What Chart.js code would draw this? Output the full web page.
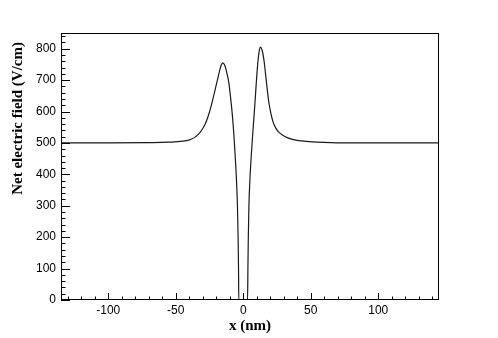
<!DOCTYPE html>
<html>
<head>
<meta charset="utf-8">
<script src="https://cdn.jsdelivr.net/npm/chart.js@4.4.1/dist/chart.umd.min.js"></script>
<style>
  html, body { margin: 0; padding: 0; background: #fff; }
  #wrap { width: 498px; height: 338px; }
</style>
</head>
<body>
<div id="wrap"><canvas id="field-chart" width="498" height="338"></canvas></div>
<script>
// values (x in nm, field in V/cm)
const xNm = [-135, -100, -70, -55, -45, -39, -35, -32, -30, -28, -26, -24, -22, -20, -17.6, -16.3, -15.1,
  -13.5, -11.9, -10.7, -9.4, -8.2, -7, -6, -5, -4.3, -3.8, -3.5, -3.3, 0,
  3.2, 3.45, 3.75, 4.2, 4.9, 5.8, 6.8, 7.8, 8.8, 9.8, 10.8, 11.8, 12.8, 14, 15.3, 16.5, 17.8, 19,
  20.2, 22, 24, 26, 29, 33, 38, 45, 55, 65, 80, 145];
const field = [500, 500, 501, 502.5, 505.5, 511, 521, 534, 546, 562, 585, 614, 648, 685, 728, 748, 755,
  745, 718, 692, 645, 595, 530, 460, 380, 300, 200, 100, 0, 0,
  0, 100, 200, 300, 380, 450, 515, 575, 635, 700, 755, 792, 805, 795, 765, 720, 669, 628,
  600, 568, 548, 536, 525, 516, 510, 505.5, 502.5, 501, 500, 500];
const xTicks = [-100, -50, 0, 50, 100];
const yTicks = [0, 100, 200, 300, 400, 500, 600, 700, 800];

// ROOT-style frame with ticks on the inside, minor ticks included
const frameTicks = {
  id: 'frameTicks',
  afterDraw(chart) {
    const { ctx, chartArea: { left, right, top, bottom }, scales: { x, y } } = chart;
    ctx.save();
    ctx.strokeStyle = '#000';
    ctx.lineWidth = 1;
    ctx.strokeRect(left + 0.5, top + 0.5, right - left - 1, bottom - top - 1);
    ctx.beginPath();
    for (let v = -130; v <= 140; v += 10) {
      const px = Math.round(x.getPixelForValue(v)) + 0.5;
      const len = v % 50 === 0 ? 7 : 3.5;
      ctx.moveTo(px, bottom);
      ctx.lineTo(px, bottom - len);
    }
    for (let v = 0; v <= 840; v += 20) {
      const py = Math.round(y.getPixelForValue(v)) + 0.5;
      const len = v % 100 === 0 ? 9 : 4.5;
      ctx.moveTo(left, py);
      ctx.lineTo(left + len, py);
    }
    ctx.stroke();

    ctx.fillStyle = '#000';
    ctx.font = 'bold 15px "Liberation Serif", "Times New Roman", serif';
    ctx.textAlign = 'center';
    ctx.textBaseline = 'middle';
    ctx.fillText('x (nm)', (left + right) / 2, 326.5);
    ctx.translate(18.5, top + 9);
    ctx.rotate(-Math.PI / 2);
    ctx.textAlign = 'right';
    ctx.fillText('Net electric field (V/cm)', 0, 0);
    ctx.restore();
  }
};

new Chart(document.getElementById('field-chart'), {
  type: 'scatter',
  data: {
    datasets: [{
      data: xNm.map((v, i) => ({ x: v, y: field[i] })),
      showLine: true,
      borderColor: '#1a1a1a',
      borderWidth: 1.2,
      pointRadius: 0,
      cubicInterpolationMode: 'monotone',
    }],
  },
  options: {
    responsive: false,
    animation: false,
    layout: { padding: { top: 33, right: 59, left: 0, bottom: 0 } },
    scales: {
      x: {
        type: 'linear',
        min: -135,
        max: 145,
        afterFit: s => { s.height = 38; },
        afterBuildTicks: s => { s.ticks = xTicks.map(v => ({ value: v })); },
        grid: { display: false, drawTicks: false },
        border: { display: false },
        ticks: { color: '#000', padding: 3, font: { family: '"Liberation Sans", Arial, sans-serif', size: 12 } },
      },
      y: {
        min: 0,
        max: 850,
        afterFit: s => { s.width = 61; },
        afterBuildTicks: s => { s.ticks = yTicks.map(v => ({ value: v })); },
        grid: { display: false, drawTicks: false },
        border: { display: false },
        ticks: { color: '#000', padding: 5, font: { family: '"Liberation Sans", Arial, sans-serif', size: 12 } },
      },
    },
    plugins: { legend: { display: false }, tooltip: { enabled: false } },
  },
  plugins: [frameTicks],
});
</script>
</body>
</html>
